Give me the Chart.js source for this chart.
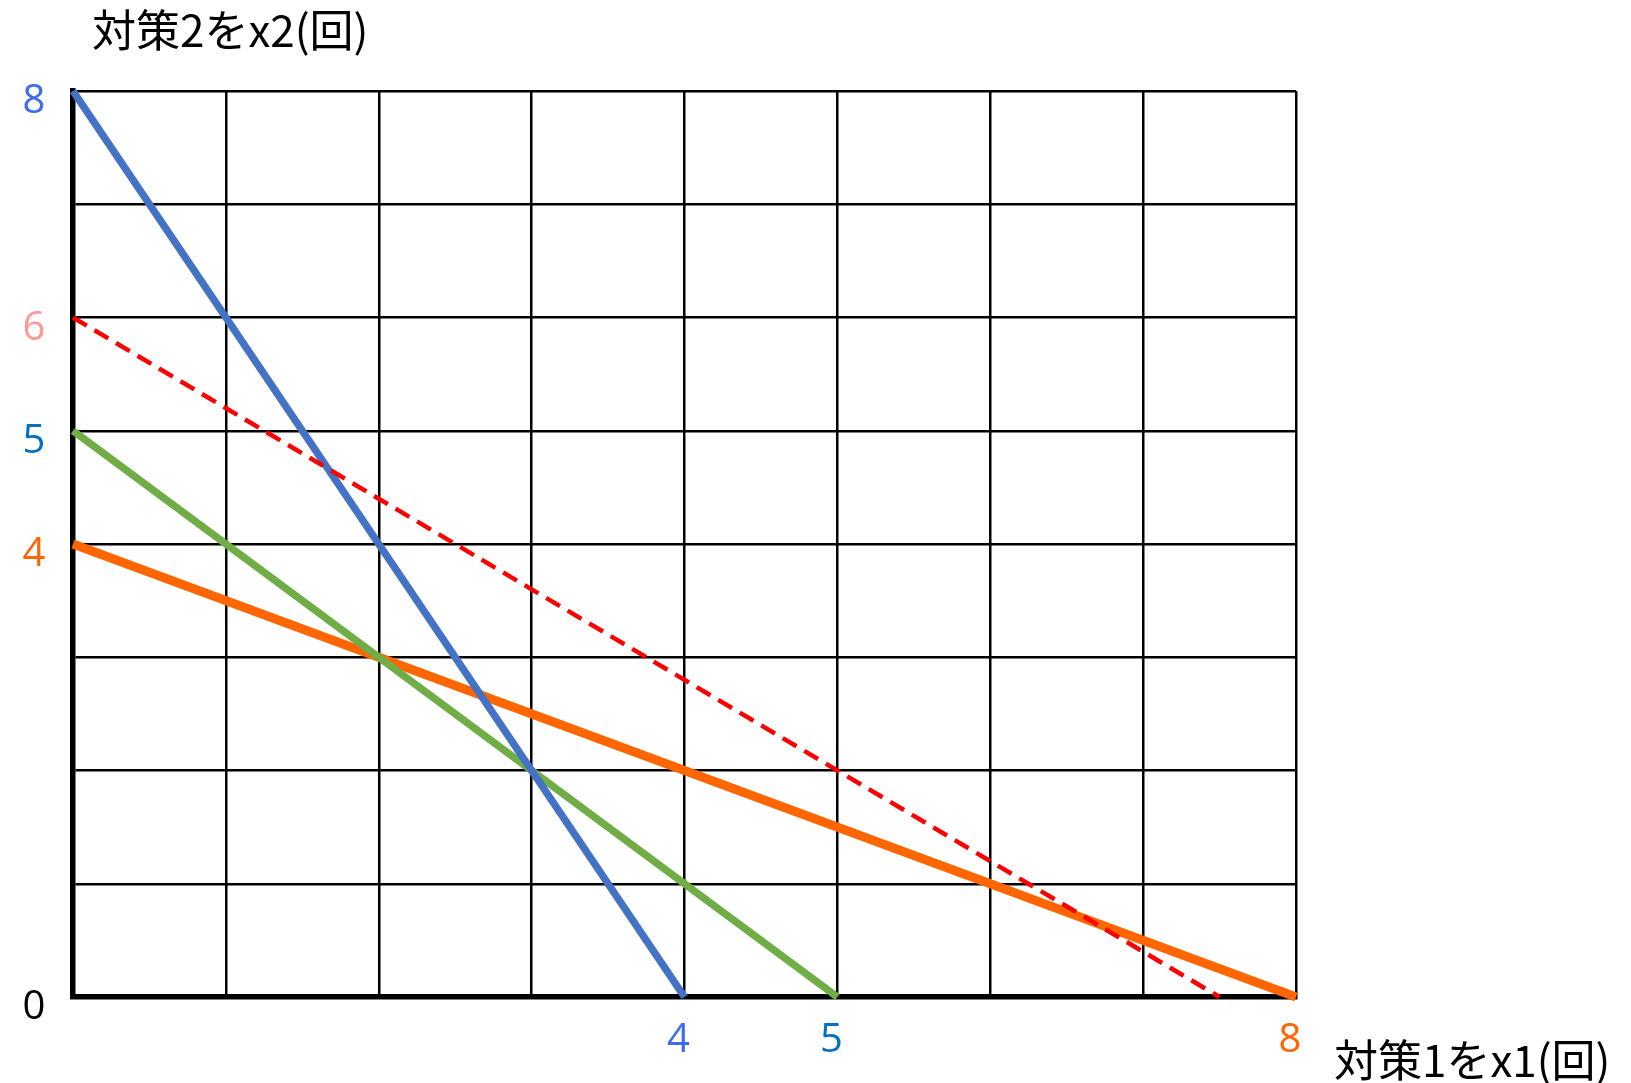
<!DOCTYPE html>
<html>
<head>
<meta charset="utf-8">
<script src="https://cdn.jsdelivr.net/npm/chart.js@4.4.1/dist/chart.umd.min.js"></script>
<style>
html,body{margin:0;padding:0;background:#fff;}
#wrap{position:relative;width:1631px;height:1083px;}
</style>
</head>
<body>
<div id="wrap"><canvas id="c" width="1631" height="1083"></canvas></div>
<script>
// ---- data ----
const lineNames   = ['redDashed', 'blue', 'green', 'orange'];
const lineStartY  = [6, 8, 5, 4];      // value on x2 axis at x1 = 0
const lineEndX    = [7.5, 4, 5, 8];    // value on x1 axis at x2 = 0
const lineColors  = ['#FF0000', '#4472C4', '#70AD47', '#FF6600'];

const yTickValues = [8, 6, 5, 4, 0];
const yTickLabels = ['8', '6', '5', '4', '0'];
const yTickColors = ['#3D6BF2', '#FF9999', '#0070C0', '#FF6600', '#000000'];

const xTickValues = [4, 5, 8];
const xTickLabels = ['4', '5', '8'];
const xTickColors = ['#3D6BF2', '#0070C0', '#FF6600'];

const yTitle = '対策2をx2(回)';
const xTitle = '対策1をx1(回)';

const axisMin = 0, axisMax = 8;

// ---- datasets ----
const datasets = lineNames.map((n, i) => ({
  label: n,
  data: [{x: 0, y: lineStartY[i]}, {x: lineEndX[i], y: 0}],
  borderColor: lineColors[i],
  borderWidth: n === 'redDashed' ? 4.5 : (n === 'orange' ? 9 : 7.5),
  borderDash: n === 'redDashed' ? [16, 9] : [],
  pointRadius: 0,
  showLine: true,
  fill: false,
  clip: false,
  tension: 0
}));

const labelFont = '40px "Open Sans", "Noto Sans", sans-serif';
const titleFont = '44px "Noto Sans CJK JP", "Noto Sans", sans-serif';

const customText = {
  id: 'customText',
  afterDraw(chart) {
    const ctx = chart.ctx;
    const xs = chart.scales.x, ys = chart.scales.y;
    ctx.save();
    ctx.font = labelFont;
    ctx.textBaseline = 'middle';
    ctx.textAlign = 'center';
    yTickValues.forEach((v, i) => {
      ctx.fillStyle = yTickColors[i];
      ctx.fillText(yTickLabels[i], 34, ys.getPixelForValue(v) + 11);
    });
    xTickValues.forEach((v, i) => {
      ctx.fillStyle = xTickColors[i];
      ctx.fillText(xTickLabels[i], xs.getPixelForValue(v) - 6, 1041);
    });
    ctx.font = titleFont;
    ctx.fillStyle = '#000';
    ctx.textAlign = 'left';
    ctx.fillText(yTitle, 92, 30);
    ctx.fillText(xTitle, 1334, 1060);
    ctx.restore();
  }
};

new Chart(document.getElementById('c'), {
  type: 'scatter',
  data: { datasets },
  options: {
    responsive: false,
    animation: false,
    devicePixelRatio: 1,
    layout: { padding: { left: 0, top: 91, right: 335, bottom: 0 } },
    plugins: { legend: { display: false }, tooltip: { enabled: false } },
    scales: {
      x: {
        type: 'linear', min: axisMin, max: axisMax,
        ticks: { stepSize: 1, display: false },
        grid: { color: '#000', lineWidth: 2.5, drawTicks: false },
        border: { color: '#000', width: 5.5 },
        afterFit(s) { s.height = 86; }
      },
      y: {
        type: 'linear', min: axisMin, max: axisMax,
        ticks: { stepSize: 1, display: false },
        grid: { color: '#000', lineWidth: 2.5, drawTicks: false },
        border: { color: '#000', width: 5.5 },
        afterFit(s) { s.width = 73; }
      }
    }
  },
  plugins: [customText]
});
</script>
</body>
</html>
